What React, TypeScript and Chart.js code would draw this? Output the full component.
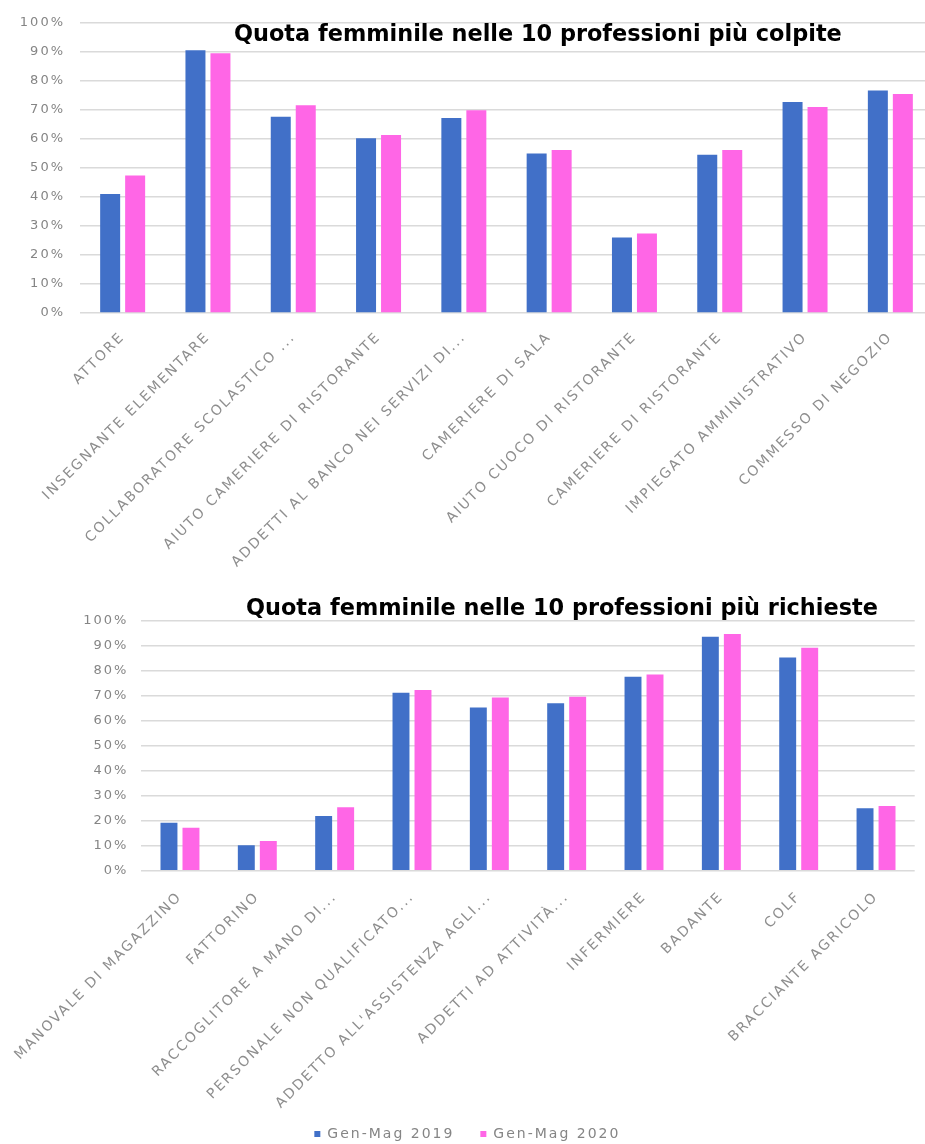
import React, { useEffect, useRef } from "react";
import { Chart, registerables } from "chart.js";

Chart.register(...registerables);

// ---- data ----
const seriesNames = ["Gen-Mag 2019", "Gen-Mag 2020"];

const titleTop = "Quota femminile nelle 10 professioni più colpite";
const categoriesTop = [
  "ATTORE",
  "INSEGNANTE ELEMENTARE",
  "COLLABORATORE SCOLASTICO ...",
  "AIUTO CAMERIERE DI RISTORANTE",
  "ADDETTI AL BANCO NEI SERVIZI DI...",
  "CAMERIERE DI SALA",
  "AIUTO CUOCO DI RISTORANTE",
  "CAMERIERE DI RISTORANTE",
  "IMPIEGATO AMMINISTRATIVO",
  "COMMESSO DI NEGOZIO",
];
const top2019 = [41, 90.5, 67.6, 60.2, 67.2, 55, 26, 54.5, 72.7, 76.7];
const top2020 = [47.4, 89.5, 71.6, 61.3, 69.9, 56.2, 27.4, 56.2, 71, 75.5];

const titleBottom = "Quota femminile nelle 10 professioni più richieste";
const categoriesBottom = [
  "MANOVALE DI MAGAZZINO",
  "FATTORINO",
  "RACCOGLITORE A MANO DI...",
  "PERSONALE NON QUALIFICATO...",
  "ADDETTO ALL'ASSISTENZA AGLI...",
  "ADDETTI AD ATTIVITÀ...",
  "INFERMIERE",
  "BADANTE",
  "COLF",
  "BRACCIANTE AGRICOLO",
];
const bottom2019 = [19.2, 10.2, 21.9, 71.2, 65.3, 67, 77.6, 93.6, 85.3, 25];
const bottom2020 = [17.2, 11.9, 25.4, 72.3, 69.3, 69.6, 78.5, 94.7, 89.2, 25.9];

// ---- styles ----
const BLUE = "#4170C8";
const PINK = "#FF66E6";
const GRAY = "#858585";
const LABEL_GRAY = "#8e8e8e";
const GRID = "#dadada";
const FONT = "'DejaVu Sans', sans-serif";
const SPACING = "2px";

const spacingPlugin = {
  id: "letterSpacing",
  beforeLayout(chart: any) {
    chart.ctx.letterSpacing = SPACING;
  },
  beforeDraw(chart: any) {
    chart.ctx.letterSpacing = SPACING;
  },
};

type PanelProps = {
  categories: string[];
  s1: number[];
  s2: number[];
  left: number;
  top: number;
  width: number;
  height: number;
  padding: { left: number; right: number; top: number; bottom: number };
  yWidth: number;
  xHeight: number;
  catPct: number;
  barPct: number;
  xPad: number;
  yPad: number;
  legend: boolean;
  legendPad: number;
};

function BarPanel(p: PanelProps) {
  const ref = useRef<HTMLCanvasElement>(null);
  useEffect(() => {
    const canvas = ref.current;
    if (!canvas) return;
    const chart = new Chart(canvas, {
      type: "bar",
      data: {
        labels: p.categories,
        datasets: [
          {
            label: seriesNames[0],
            data: p.s1,
            backgroundColor: BLUE,
            categoryPercentage: p.catPct,
            barPercentage: p.barPct,
          },
          {
            label: seriesNames[1],
            data: p.s2,
            backgroundColor: PINK,
            categoryPercentage: p.catPct,
            barPercentage: p.barPct,
          },
        ],
      },
      options: {
        responsive: false,
        animation: false,
        devicePixelRatio: 1,
        layout: { padding: p.padding, autoPadding: false } as any,
        plugins: {
          title: { display: false },
          tooltip: { enabled: false },
          legend: {
            display: p.legend,
            position: "bottom",
            labels: {
              boxWidth: 6,
              boxHeight: 6,
              padding: p.legendPad,
              color: GRAY,
              font: { family: FONT, size: 14 },
            },
          },
        },
        scales: {
          x: {
            grid: { display: false },
            border: { display: false },
            ticks: {
              autoSkip: false,
              minRotation: 45,
              maxRotation: 45,
              padding: p.xPad,
              color: LABEL_GRAY,
              font: { family: FONT, size: 14 },
            },
            afterFit: (s: any) => {
              s.height = p.xHeight;
            },
            afterUpdate: (s: any) => {
              // let the long rotated labels run past the axis box
              s._computeLabelArea = () => undefined;
            },
          } as any,
          y: {
            min: 0,
            max: 100,
            grid: { color: GRID, lineWidth: 1.5, drawTicks: false },
            border: { display: false },
            ticks: {
              stepSize: 10,
              padding: p.yPad,
              color: GRAY,
              font: { family: FONT, size: 13 },
              callback: (v: any) => `${v}%`,
            },
            afterFit: (s: any) => {
              s.width = p.yWidth;
            },
          } as any,
        },
      },
      plugins: [spacingPlugin],
    });
    return () => chart.destroy();
  }, []);
  return (
    <canvas
      ref={ref}
      width={p.width}
      height={p.height}
      style={{
        position: "absolute",
        left: p.left,
        top: p.top,
        width: p.width,
        height: p.height,
      }}
    />
  );
}

const titleStyle: React.CSSProperties = {
  position: "absolute",
  fontFamily: FONT,
  fontWeight: "bold",
  fontSize: 22.4,
  lineHeight: "22.4px",
  color: "#000",
  whiteSpace: "nowrap",
  margin: 0,
};

export default function App() {
  return (
    <div
      style={{
        position: "absolute",
        left: 0,
        top: 0,
        width: 925,
        height: 1144,
        overflow: "hidden",
        background: "#fff",
      }}
    >
      <BarPanel
        categories={categoriesTop}
        s1={top2019}
        s2={top2020}
        left={0}
        top={0}
        width={940}
        height={590}
        padding={{ left: 0, right: 7, top: 20, bottom: 0 }}
        yWidth={80}
        xHeight={277}
        catPct={0.586}
        barPct={0.8}
        xPad={8}
        yPad={15}
        legend={false}
        legendPad={10}
      />
      <BarPanel
        categories={categoriesBottom}
        s1={bottom2019}
        s2={bottom2020}
        left={0}
        top={570}
        width={925}
        height={590}
        padding={{ left: 20, right: 10.3, top: 50.7, bottom: 9 }}
        yWidth={121.3}
        xHeight={230.3}
        catPct={0.569}
        barPct={0.77}
        xPad={10}
        yPad={13}
        legend={true}
        legendPad={26}
      />
      <div style={{ ...titleStyle, left: 234, top: 21.7 }}>{titleTop}</div>
      <div style={{ ...titleStyle, left: 246, top: 596 }}>{titleBottom}</div>
    </div>
  );
}
